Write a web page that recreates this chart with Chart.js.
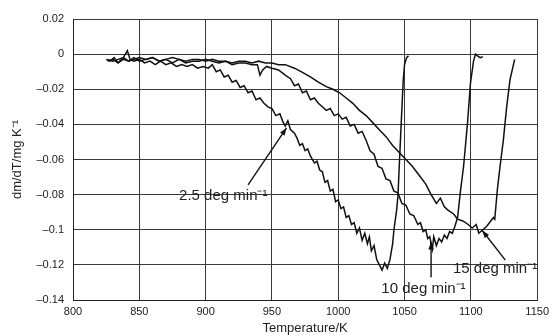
<!DOCTYPE html>
<html>
<head>
<meta charset="utf-8">
<script src="https://cdn.jsdelivr.net/npm/chart.js@4"></script>
<style>
    html, body { margin: 0; padding: 0; background: #fff; }
    #wrap { width: 554px; height: 336px; }
</style>
</head>
<body>
<div id="wrap"><canvas id="chart"></canvas></div>
<script>
// 2.5 deg/min
const temps25 = [825, 828, 831, 834, 838, 841, 843, 846, 850, 854, 858, 862, 866, 870, 874, 878, 882, 886, 890, 894, 898, 902, 905, 908, 911, 914, 917, 920, 923, 926, 929, 932, 935, 938, 941, 944, 947, 950, 953, 956, 958, 960, 962, 964, 967, 969, 971, 973, 975, 977, 979, 982, 984, 986, 988, 990, 992, 994, 996, 998, 1000, 1002, 1004, 1006, 1008, 1010, 1012, 1014, 1016, 1018, 1020, 1022, 1023.5, 1025, 1027, 1029, 1031, 1033, 1035, 1037, 1039, 1041, 1042, 1044, 1045, 1046, 1047.5, 1049, 1050, 1051.5, 1053];
const vals25 = [-0.003, -0.004, -0.002, -0.005, -0.002, 0.002, -0.003, -0.004, -0.003, -0.005, -0.004, -0.006, -0.004, -0.006, -0.005, -0.007, -0.006, -0.007, -0.006, -0.008, -0.007, -0.008, -0.006, -0.01, -0.009, -0.013, -0.012, -0.016, -0.015, -0.019, -0.018, -0.022, -0.021, -0.026, -0.025, -0.028, -0.03, -0.031, -0.035, -0.034, -0.038, -0.041, -0.038, -0.043, -0.045, -0.048, -0.052, -0.051, -0.055, -0.054, -0.058, -0.062, -0.061, -0.066, -0.067, -0.073, -0.072, -0.078, -0.077, -0.084, -0.083, -0.088, -0.087, -0.093, -0.092, -0.097, -0.096, -0.102, -0.099, -0.106, -0.102, -0.108, -0.104, -0.112, -0.109, -0.117, -0.12, -0.123, -0.119, -0.122, -0.117, -0.108, -0.1, -0.089, -0.081, -0.064, -0.039, -0.015, -0.006, -0.002, -0.001];

// 10 deg/min
const temps10 = [826, 830, 834, 838, 842, 846, 850, 855, 860, 865, 870, 875, 880, 885, 890, 895, 900, 905, 910, 915, 920, 925, 930, 935, 939, 941, 943, 946, 950, 955, 960, 964, 967, 970, 973, 976, 979, 982, 985, 988, 991, 994, 997, 1000, 1003, 1006, 1009, 1012, 1015, 1018, 1021, 1024, 1027, 1030, 1033, 1036, 1039, 1042, 1045, 1048, 1051, 1054, 1057, 1060, 1062, 1064, 1066, 1067.5, 1069, 1071, 1072, 1074, 1076, 1078, 1080, 1082, 1084, 1086, 1088, 1090, 1092, 1094.5, 1097.5, 1099.7, 1102, 1103.5, 1105, 1107, 1109];
const vals10 = [-0.004, -0.003, -0.005, -0.003, -0.004, -0.002, -0.004, -0.003, -0.002, -0.004, -0.003, -0.005, -0.003, -0.005, -0.004, -0.004, -0.003, -0.004, -0.005, -0.004, -0.006, -0.005, -0.005, -0.006, -0.006, -0.012, -0.009, -0.007, -0.008, -0.009, -0.012, -0.014, -0.018, -0.017, -0.022, -0.021, -0.026, -0.025, -0.028, -0.03, -0.032, -0.031, -0.035, -0.034, -0.037, -0.036, -0.041, -0.04, -0.045, -0.044, -0.049, -0.055, -0.057, -0.064, -0.065, -0.071, -0.072, -0.078, -0.079, -0.085, -0.086, -0.091, -0.092, -0.097, -0.096, -0.101, -0.1, -0.105, -0.104, -0.111, -0.104, -0.109, -0.105, -0.107, -0.103, -0.105, -0.101, -0.102, -0.098, -0.093, -0.079, -0.064, -0.039, -0.0165, -0.004, 0, -0.001, -0.002, -0.0015];

// 15 deg/min
const temps15 = [826, 830, 834, 838, 842, 846, 850, 855, 860, 865, 870, 875, 880, 885, 890, 895, 900, 905, 910, 915, 920, 925, 930, 935, 940, 945, 950, 955, 960, 967, 972, 979, 985, 991, 996, 1001, 1006, 1011, 1016, 1021, 1026, 1031, 1036, 1041, 1046, 1051, 1056, 1061, 1066, 1070, 1074, 1077, 1080, 1083, 1087, 1090, 1094, 1098, 1101, 1104, 1106, 1109, 1112, 1115, 1117, 1118, 1120, 1122, 1124.5, 1127, 1129.5, 1133];
const vals15 = [-0.003, -0.004, -0.003, -0.002, -0.004, -0.003, -0.002, -0.003, -0.002, -0.004, -0.003, -0.002, -0.003, -0.004, -0.003, -0.003, -0.004, -0.003, -0.004, -0.004, -0.005, -0.004, -0.004, -0.005, -0.004, -0.005, -0.005, -0.006, -0.006, -0.008, -0.01, -0.013, -0.016, -0.0185, -0.02, -0.022, -0.025, -0.028, -0.032, -0.035, -0.039, -0.043, -0.047, -0.052, -0.056, -0.06, -0.064, -0.069, -0.074, -0.08, -0.085, -0.082, -0.087, -0.089, -0.091, -0.094, -0.095, -0.097, -0.099, -0.097, -0.102, -0.1, -0.098, -0.095, -0.093, -0.094, -0.077, -0.064, -0.049, -0.03, -0.0147, -0.003];

const xTicks = [800, 850, 900, 950, 1000, 1050, 1100, 1150];
const yTicks = [0.02, 0, -0.02, -0.04, -0.06, -0.08, -0.1, -0.12, -0.14];

// annotations: label text, label position, arrow tail, arrow head (data units)
const noteLabels = ['2.5 deg min\u207B\u00B9', '10 deg min\u207B\u00B9', '15 deg min\u207B\u00B9'];
const noteTextPos = [[880, -0.0805], [1032.5, -0.1335], [1086.5, -0.1225]];
const noteArrowFrom = [[932, -0.0745], [1070, -0.127], [1126, -0.1173]];
const noteArrowTo = [[961, -0.042], [1070, -0.107], [1108.6, -0.1004]];

function pairs(xs, ys) {
    return xs.map(function (x, i) {
        return { x: x, y: ys[i] };
    });
}

function formatTick(value) {
    const v = Number(Number(value).toFixed(2));
    if (v === 0) {
        return '0';
    }
    return String(v).replace('-', '\u2013');
}

const annotationPlugin = {
    id: 'notes',
    afterDatasetsDraw: function (chart) {
        const ctx = chart.ctx;
        const xs = chart.scales.x;
        const ys = chart.scales.y;
        ctx.save();
        ctx.strokeStyle = '#111';
        ctx.fillStyle = '#111';
        ctx.lineWidth = 1.4;
        noteArrowFrom.forEach(function (from, i) {
            const x1 = xs.getPixelForValue(from[0]);
            const y1 = ys.getPixelForValue(from[1]);
            const x2 = xs.getPixelForValue(noteArrowTo[i][0]);
            const y2 = ys.getPixelForValue(noteArrowTo[i][1]);
            const ang = Math.atan2(y2 - y1, x2 - x1);
            ctx.beginPath();
            ctx.moveTo(x1, y1);
            ctx.lineTo(x2, y2);
            ctx.stroke();
            ctx.beginPath();
            ctx.moveTo(x2, y2);
            ctx.lineTo(x2 - 8 * Math.cos(ang - 0.35), y2 - 8 * Math.sin(ang - 0.35));
            ctx.lineTo(x2 - 8 * Math.cos(ang + 0.35), y2 - 8 * Math.sin(ang + 0.35));
            ctx.closePath();
            ctx.fill();
        });
        ctx.font = '15px "Liberation Sans", Arial, sans-serif';
        ctx.fillStyle = '#222';
        ctx.textAlign = 'left';
        ctx.textBaseline = 'middle';
        noteLabels.forEach(function (label, i) {
            const p = noteTextPos[i];
            ctx.fillText(label, xs.getPixelForValue(p[0]), ys.getPixelForValue(p[1]));
        });
        ctx.restore();
    }
};

const lineStyle = {
    borderColor: '#111',
    borderWidth: 1.5,
    pointRadius: 0,
    showLine: true,
    fill: false,
    tension: 0
};

new Chart(document.getElementById('chart'), {
    type: 'scatter',
    data: {
        datasets: [
            Object.assign({ label: '2.5 deg min-1', data: pairs(temps25, vals25) }, lineStyle),
            Object.assign({ label: '10 deg min-1', data: pairs(temps10, vals10) }, lineStyle),
            Object.assign({ label: '15 deg min-1', data: pairs(temps15, vals15) }, lineStyle)
        ]
    },
    options: {
        responsive: true,
        maintainAspectRatio: false,
        animation: false,
        layout: {
            padding: { top: 19, right: 12, left: 0, bottom: 0 }
        },
        plugins: {
            legend: { display: false },
            tooltip: { enabled: false }
        },
        scales: {
            x: {
                type: 'linear',
                min: 800,
                max: 1150,
                afterBuildTicks: function (scale) {
                    scale.ticks = xTicks.map(function (v) { return { value: v }; });
                },
                afterFit: function (scale) {
                    scale.height = 36;
                },
                grid: { color: '#3a3a3a', lineWidth: 1, drawTicks: false },
                border: { color: '#222', width: 1 },
                ticks: {
                    color: '#222',
                    padding: 5,
                    maxRotation: 0,
                    callback: function (value) { return String(value); },
                    font: { family: '"Liberation Sans", Arial, sans-serif', size: 11 }
                },
                title: {
                    display: true,
                    text: 'Temperature/K',
                    color: '#222',
                    padding: { top: 1, bottom: 0 },
                    font: { family: '"Liberation Sans", Arial, sans-serif', size: 13 }
                }
            },
            y: {
                type: 'linear',
                min: -0.14,
                max: 0.02,
                afterBuildTicks: function (scale) {
                    scale.ticks = yTicks.map(function (v) { return { value: v }; });
                },
                afterFit: function (scale) {
                    scale.width = 73;
                },
                grid: { color: '#3a3a3a', lineWidth: 1, drawTicks: false },
                border: { color: '#222', width: 1 },
                ticks: {
                    color: '#222',
                    padding: 9,
                    callback: formatTick,
                    font: { family: '"Liberation Sans", Arial, sans-serif', size: 11 }
                },
                title: {
                    display: true,
                    text: 'dm/dT/mg K\u207B\u00B9',
                    color: '#222',
                    padding: { top: 10, bottom: 4 },
                    font: { family: '"Liberation Sans", Arial, sans-serif', size: 13 }
                }
            }
        }
    },
    plugins: [annotationPlugin]
});
</script>
</body>
</html>
